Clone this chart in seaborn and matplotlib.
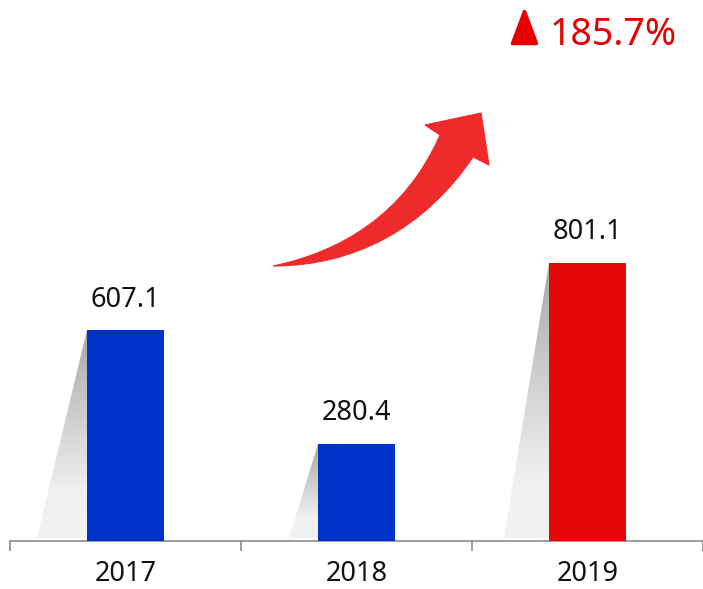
import numpy as np
import pandas as pd
import matplotlib
matplotlib.use("Agg")
import matplotlib.pyplot as plt
import seaborn as sns
from matplotlib.path import Path
from matplotlib.patches import PathPatch, Polygon
from matplotlib.transforms import Affine2D
from matplotlib.colors import LinearSegmentedColormap

# ---- data ----
years = ["2017", "2018", "2019"]
values = [607.1, 280.4, 801.1]
value_labels = ["607.1", "280.4", "801.1"]
growth_label = "185.7%"

# ---- styles ----
bar_colors = ["#0033cc", "#0033cc", "#e60808"]
shadow_offsets = [0.216, 0.125, 0.195]   # horizontal reach of the shadow (category units)
BAR_W = 0.333

sns.set_theme(style="white")
plt.rcParams["font.family"] = ["Noto Sans", "DejaVu Sans"]

W, H, DPI = 703, 589, 100
fig = plt.figure(figsize=(W / DPI, H / DPI), dpi=DPI)
ax = fig.add_axes([10 / W, 48 / H, 693 / W, 541 / H])

df = pd.DataFrame({"year": years, "value": values})
sns.barplot(data=df, x="year", y="value", hue="year", palette=bar_colors,
            saturation=1, width=BAR_W, linewidth=0, legend=False, ax=ax, zorder=3)

ax.set_xlim(-0.5, 2.5)
ax.set_ylim(0, 541 / 0.3476)

# gradient shadows
cmap = LinearSegmentedColormap.from_list(
    "sh", [(0.0, "#f2f2f2"), (0.22, "#f0f0f0"), (1.0, "#a8a8a8")])
for i, (v, off) in enumerate(zip(values, shadow_offsets)):
    left = i - BAR_W / 2
    bottom = 10
    tri = Polygon([(left, v), (left, bottom), (left - off, bottom)],
                  closed=True, facecolor="none", edgecolor="none")
    ax.add_patch(tri)
    grad = np.linspace(0, 1, 256).reshape(-1, 1)
    im = ax.imshow(grad, cmap=cmap, origin="lower", aspect="auto",
                   extent=(left - off, left + 0.002, bottom, v), zorder=2,
                   interpolation="bilinear")
    im.set_clip_path(tri)
ax.set_xlim(-0.5, 2.5)
ax.set_ylim(0, 541 / 0.3476)

# value labels
for i, (v, lab) in enumerate(zip(values, value_labels)):
    ax.annotate(lab, (i, v), xytext=(0, 16.6), textcoords="offset points",
                ha="center", va="baseline", fontsize=19.5, color="#111111")

# axes styling
for s in ["left", "top", "right"]:
    ax.spines[s].set_visible(False)
ax.spines["bottom"].set_color("#8c8c8c")
ax.spines["bottom"].set_linewidth(1.2)
ax.set_yticks([])
ax.set_xlabel("")
ax.set_ylabel("")
ax.set_xticks([0, 1, 2])
ax.set_xticklabels(years)
ax.set_xticks([-0.5, 0.5, 1.5, 2.5], minor=True)
ax.tick_params(axis="x", which="major", length=0, pad=14.0, labelsize=19.5,
               labelcolor="#111111")
ax.tick_params(axis="x", which="minor", length=7.2, width=1.2, color="#8c8c8c",
               direction="out", bottom=True)

# decorations in pixel coordinates (top-down)
pix = Affine2D().scale(1 / W, -1 / H).translate(0, 1) + fig.transFigure

verts = [
    (273, 266),
    (340, 252), (405, 215), (440, 135),
    (425, 125),
    (481, 113),
    (489, 165),
    (473, 157),
    (425, 228), (355, 266), (273, 266),
    (273, 266),
]
codes = [Path.MOVETO,
         Path.CURVE4, Path.CURVE4, Path.CURVE4,
         Path.LINETO, Path.LINETO, Path.LINETO, Path.LINETO,
         Path.CURVE4, Path.CURVE4, Path.CURVE4,
         Path.CLOSEPOLY]
arrow = PathPatch(Path(verts, codes), facecolor="#ee2a2a", edgecolor="#ee2a2a",
                  linewidth=0.8, transform=pix, zorder=5)
fig.add_artist(arrow)

tri = Polygon([(512.5, 43.5), (524.5, 11.5), (536.5, 43.5)], closed=True,
              facecolor="#e60000", edgecolor="#e60000", linewidth=2.5,
              joinstyle="round", transform=pix)
fig.add_artist(tri)

fig.text(550 / W, 1 - 45 / H, growth_label, ha="left", va="baseline",
         fontsize=27, color="#e60000")

fig.savefig("out.png", dpi=DPI)
